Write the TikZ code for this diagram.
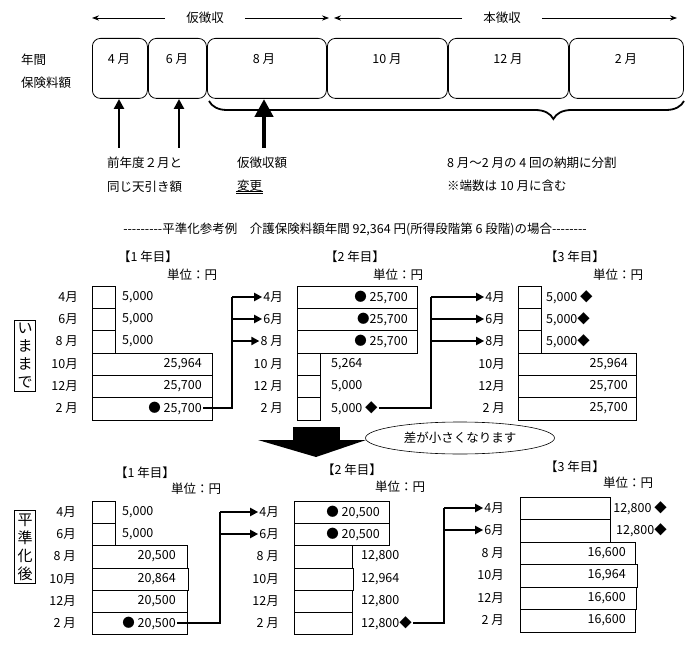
\documentclass[tikz,border=0pt]{standalone}
\usepackage{fontspec}
\setmainfont{Noto Sans CJK JP}
\usetikzlibrary{
  arrows.meta,
  decorations.pathreplacing,
  shapes,
}
\tikzset{
  mbox/.style={draw,rounded corners=8pt,line width=0.8pt,anchor=north west,inner sep=0pt,minimum height=60pt},
  lbl/.style={font=\fontsize{12.5}{14}\selectfont,inner sep=1pt},
  mon/.style={lbl,anchor=east},
  vl/.style={lbl,anchor=west},
  vr/.style={lbl,anchor=east},
  cellline/.style={line width=0.6pt},
  flow/.style={-{Triangle[length=8pt,width=8pt]},line width=2.2pt},
  sidebox/.style={draw,line width=0.6pt,font=\fontsize{15}{18}\selectfont,align=center,inner sep=3pt},
}
\begin{document}
\begin{tikzpicture}[x=1pt,y=-1pt]
\useasboundingbox (0,0) rectangle (690,652);

% top: year boxes
\node[lbl,anchor=west] (nen) at (20,60) {年間};
\node[lbl,anchor=west] (hoken) at (20,83) {保険料額};
\node[mbox,minimum width=55pt] (m4) at (92,38) {};
\node[mbox,minimum width=58pt] (m6) at (148,38) {};
\node[mbox,minimum width=119pt] (m8) at (207,38) {};
\node[mbox,minimum width=120pt] (m10) at (327,38) {};
\node[mbox,minimum width=120pt] (m12) at (448,38) {};
\node[mbox,minimum width=114pt] (m2) at (569,38) {};
\node[lbl] at (119,59) {4 月};
\node[lbl] at (177,59) {6 月};
\node[lbl] at (264,59) {8 月};
\node[lbl] at (387,59) {10 月};
\node[lbl] at (508,59) {12 月};
\node[lbl] at (626,59) {2 月};

% collection periods
\node[lbl] (kari) at (205,18) {仮徴収};
\node[lbl] (hon) at (502,18) {本徴収};
\coordinate (k0) at (92,18);
\coordinate (k1) at (329,18);
\coordinate (h0) at (334,18);
\coordinate (h1) at (677,18);
\draw[-{Stealth[length=7pt]},line width=0.9pt] ([xshift=-20pt]kari.west) -- (k0);
\draw[-{Stealth[length=7pt]},line width=0.9pt] ([xshift=20pt]kari.east) -- (k1);
\draw[-{Stealth[length=7pt]},line width=0.9pt] ([xshift=-20pt]hon.west) -- (h0);
\draw[-{Stealth[length=7pt]},line width=0.9pt] ([xshift=20pt]hon.east) -- (h1);

% pointers and brace
\coordinate (p4) at (119,148);
\coordinate (p6) at (179,148);
\coordinate (p8) at (264,148);
\draw[-{Triangle[length=10pt,width=10pt]},line width=2.6pt] (p4) -- (119,99);
\draw[-{Triangle[length=10pt,width=10pt]},line width=2.6pt] (p6) -- (179,99);
\draw[-{Triangle[length=18pt,width=18pt]},line width=4.5pt] (p8) -- (264,99);
\draw[decorate,decoration={brace,mirror,amplitude=18pt,aspect=0.725},line width=1.8pt] (209,101) -- (684,101);
\node[lbl,anchor=west] (t1) at (106,163) {前年度２月と};
\node[lbl,anchor=west] (t2) at (106,187) {同じ天引き額};
\node[lbl,anchor=west] (t3) at (236,163) {仮徴収額};
\node[lbl,anchor=west] (t4) at (236,186) {変更};
\draw[line width=0.5pt] (t4.south west) -- (t4.south east);
\draw[line width=0.5pt] ([yshift=2pt]t4.south west) -- ([yshift=2pt]t4.south east);
\node[lbl,anchor=west] (t5) at (446,163) {8 月～2 月の 4 回の納期に分割};
\node[lbl,anchor=west] (t6) at (446,186) {※端数は 10 月に含む};
\node[lbl] (title) at (355,229) {{-}{-}{-}{-}{-}{-}{-}{-}{-}平準化参考例　介護保険料額年間 92,364 円(所得段階第 6 段階)の場合{-}{-}{-}{-}{-}{-}{-}{-}};

% ---- upper tables
\node[sidebox] (ima) at (25,356) {い\\ま\\ま\\で};
\node[lbl] at (148,257) {【1 年目】};
\node[lbl] at (192,275) {単位：円};
\node[lbl] at (355,257) {【2 年目】};
\node[lbl] at (398,275) {単位：円};
\node[lbl] at (575,257) {【3 年目】};
\node[lbl] at (618,275) {単位：円};

\draw[cellline] (92,286) rectangle (115,308) (92,308) rectangle (115,330) (92,330) rectangle (115,353)
  (92,353) rectangle (212,375) (92,375) rectangle (212,397) (92,397) rectangle (212,420);
\draw[cellline] (297,286) rectangle (417,308) (297,308) rectangle (417,330) (297,330) rectangle (417,353)
  (297,353) rectangle (320,375) (297,375) rectangle (320,397) (297,397) rectangle (320,420);
\draw[cellline] (518,286) rectangle (541,308) (518,308) rectangle (541,330) (518,330) rectangle (541,353)
  (518,353) rectangle (636,375) (518,375) rectangle (636,397) (518,397) rectangle (636,420);

\node[mon] at (79,297) {4月};
\node[mon] at (79,319) {6月};
\node[mon] at (79,341) {8 月};
\node[mon] at (79,364) {10月};
\node[mon] at (79,386) {12月};
\node[mon] at (79,408) {2 月};
\node[vl] at (121,297) {5,000};
\node[vl] at (121,319) {5,000};
\node[vl] at (121,341) {5,000};
\node[vr] at (203,364) {25,964};
\node[vr] at (203,386) {25,700};
\node[vr] (a2) at (203,408) {● 25,700};

\node[mon] (b4) at (284,297) {4月};
\node[mon] (b6) at (284,319) {6月};
\node[mon] (b8) at (284,341) {8 月};
\node[mon] at (284,364) {10 月};
\node[mon] at (284,386) {12 月};
\node[mon] at (284,408) {2 月};
\node[vr] at (409,297) {● 25,700};
\node[vr] at (409,319) {●25,700};
\node[vr] at (409,341) {● 25,700};
\node[vl] at (330,364) {5,264};
\node[vl] at (330,386) {5,000};
\node[vl] (b2) at (330,408) {5,000 ◆};

\node[mon] (c4) at (506,297) {4月};
\node[mon] (c6) at (506,319) {6月};
\node[mon] (c8) at (506,341) {8月};
\node[mon] at (506,364) {10月};
\node[mon] at (506,386) {12月};
\node[mon] at (506,408) {2 月};
\node[vl] at (545,297) {5,000 ◆};
\node[vl] at (545,319) {5,000◆};
\node[vl] at (545,341) {5,000◆};
\node[vr] at (629,364) {25,964};
\node[vr] at (629,386) {25,700};
\node[vr] at (629,408) {25,700};

\coordinate (j1) at (232,408);
\coordinate (j2) at (431,408);
\draw[line width=2.2pt] (a2.east) -- (j1) -- (232,297);
\draw[flow] (232,297) -- (b4.west);
\draw[flow] (232,319) -- (b6.west);
\draw[flow] (232,341) -- (b8.west);
\draw[line width=2.2pt] (b2.east) -- (j2) -- (431,297);
\draw[flow] (431,297) -- (c4.west);
\draw[flow] (431,319) -- (c6.west);
\draw[flow] (431,341) -- (c8.west);

% ---- big arrow and remark
\fill (293,427) rectangle (340,441);
\fill (258,440) -- (366,440) -- (316,457) -- cycle;
\node[draw,ellipse,line width=0.6pt,minimum width=189pt,minimum height=32pt,lbl] (diff) at (460,438) {差が小さくなります};

% ---- lower tables
\node[sidebox] (hei) at (25,547) {平\\準\\化\\後};
\node[lbl] at (145,473) {【1 年目】};
\node[lbl] at (196,489) {単位：円};
\node[lbl] at (352,470) {【2 年目】};
\node[lbl] at (400,487) {単位：円};
\node[lbl] at (575,467) {【3 年目】};
\node[lbl] at (628,483) {単位：円};

\draw[cellline] (92,501) rectangle (115,523) (92,523) rectangle (115,545)
  (92,545) rectangle (187,568) (92,568) rectangle (188,590) (92,590) rectangle (187,612) (92,612) rectangle (187,634);
\draw[cellline] (294,501) rectangle (389,523) (294,523) rectangle (389,545)
  (294,545) rectangle (352,568) (294,568) rectangle (353,590) (294,590) rectangle (352,612) (294,612) rectangle (352,634);
\draw[cellline] (520,497) rectangle (610,519) (520,519) rectangle (610,542)
  (520,542) rectangle (635,564) (520,564) rectangle (637,587) (520,587) rectangle (636,609) (520,609) rectangle (635,632);

\node[mon] at (77,512) {4月};
\node[mon] at (77,534) {6月};
\node[mon] at (77,556) {8 月};
\node[mon] at (77,579) {10月};
\node[mon] at (77,601) {12月};
\node[mon] at (77,623) {2 月};
\node[vl] at (121,512) {5,000};
\node[vl] at (121,534) {5,000};
\node[vr] at (177,556) {20,500};
\node[vr] at (177,579) {20,864};
\node[vr] at (177,601) {20,500};
\node[vr] (d2) at (177,623) {● 20,500};

\node[mon] (e4) at (280,512) {4月};
\node[mon] (e6) at (280,534) {6月};
\node[mon] at (280,556) {8 月};
\node[mon] at (280,579) {10月};
\node[mon] at (280,601) {12月};
\node[mon] at (280,623) {2 月};
\node[vr] at (381,512) {● 20,500};
\node[vr] at (381,534) {● 20,500};
\node[vl] at (360,556) {12,800};
\node[vl] at (360,579) {12,964};
\node[vl] at (360,601) {12,800};
\node[vl] (e2) at (360,623) {12,800◆};

\node[mon] (f4) at (505,508) {4月};
\node[mon] (f6) at (505,530) {6月};
\node[mon] at (505,553) {8 月};
\node[mon] at (505,575) {10月};
\node[mon] at (505,598) {12月};
\node[mon] at (505,620) {2 月};
\node[vr] at (668,508) {12,800 ◆};
\node[vr] at (668,530) {12,800◆};
\node[vr] at (627,553) {16,600};
\node[vr] at (627,575) {16,964};
\node[vr] at (627,598) {16,600};
\node[vr] at (627,620) {16,600};

\coordinate (j3) at (220,623);
\coordinate (j4) at (444,623);
\draw[line width=2.2pt] (d2.east) -- (j3) -- (220,512);
\draw[flow] (220,512) -- (e4.west);
\draw[flow] (220,534) -- (e6.west);
\draw[line width=2.2pt] (e2.east) -- (j4) -- (444,508);
\draw[flow] (444,508) -- (f4.west);
\draw[flow] (444,530) -- (f6.west);
\end{tikzpicture}
\end{document}
